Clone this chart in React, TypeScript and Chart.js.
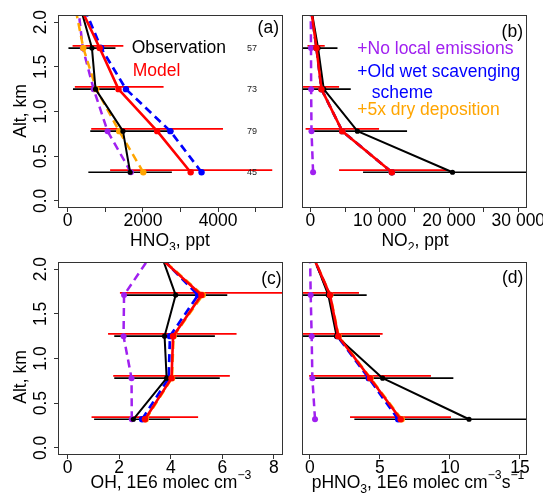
import React, { useEffect, useRef } from 'react';
import { Chart, registerables } from 'chart.js';

Chart.register(...registerables);

const FONT = '"Liberation Sans", Arial, Helvetica, sans-serif';
const TEXT_SIZE = 17.5;

const RED = '#ff0000';
const BLUE = '#0000ff';
const ORANGE = '#ffa500';
const PURPLE = '#a020f0';
const BLACK = '#000000';
const FRAME = '#333333';

// Flight-level altitudes (km); the last level lies above the plotted window.
const altitudes = [0.32, 0.78, 1.25, 1.71, 2.2];
// Altitudes of the variability bars
const barAltitudes = [0.32, 0.78, 1.25, 1.71];
// Model bars are nudged up a little so they do not hide the observed ones
const MODEL_BAR_SHIFT = 0.025;
// Number of observations per level
const sampleCounts = [45, 79, 73, 57];

// Axis ticks
const altTicks = [0, 0.5, 1, 1.5, 2];
const hno3Ticks = [0, 1000, 2000, 3000, 4000, 5000];
const no2Ticks = [0, 5000, 10000, 15000, 20000, 25000, 30000];
const ohTicks = [0, 2, 4, 6, 8];
const phno3Ticks = [0, 5, 10, 15];

// (a) HNO3, ppt
const hno3Obs = [1660, 1470, 740, 645, 314];
const hno3Model = [3270, 2380, 1350, 850, 300];
const hno3OldWet = [3560, 2730, 1550, 890, 400];
const hno3DryDep = [2010, 1370, 760, 416, 185];
const hno3NoEmis = [1680, 1060, 690, 400, 270];
const hno3ObsLow = [549, 600, 140, 20];
const hno3ObsHigh = [2770, 2810, 1260, 1270];
const hno3ModelLow = [1128, 625, 190, 130];
const hno3ModelHigh = [5440, 4130, 2550, 1480];

// (b) NO2, ppt
const no2Obs = [20500, 6780, 1920, 1100, 0];
const no2Model = [11750, 4590, 1590, 870, 0];
const no2OldWet = [11750, 4590, 1590, 870, 0];
const no2DryDep = [11750, 4590, 1590, 870, 0];
const no2NoEmis = [380, 150, 100, 80, 30];
const no2ObsLow = [7590, 150, -1980, -1700];
const no2ObsHigh = [33400, 13940, 5815, 3900];
const no2ModelLow = [4130, -700, -1070, -430];
const no2ModelHigh = [19800, 9900, 4130, 2060];

// (c) OH, 1E6 molec cm-3
const ohObs = [2.55, 3.84, 3.76, 4.19, 3.58];
const ohModel = [3.0, 4.03, 4.09, 5.19, 3.31];
const ohOldWet = [2.89, 3.92, 3.97, 5.06, 3.39];
const ohDryDep = [3.03, 4.05, 4.11, 5.24, 3.33];
const ohNoEmis = [2.49, 2.48, 2.17, 2.19, 3.34];
const ohObsLow = [1.03, 1.81, 1.81, 2.16];
const ohObsHigh = [3.97, 5.9, 5.71, 6.19];
const ohModelLow = [0.93, 1.77, 1.57, 2.03];
const ohModelHigh = [5.06, 6.29, 6.55, 8.4];

// (d) pHNO3, 1E6 molec cm-3 s-1
const phno3Obs = [11.36, 5.19, 1.9, 1.31, 0.1];
const phno3Model = [6.48, 4.29, 2.02, 1.43, 0.06];
const phno3OldWet = [6.3, 4.2, 1.96, 1.4, 0.06];
const phno3DryDep = [6.55, 4.33, 2.05, 1.45, 0.08];
const phno3NoEmis = [0.36, 0.17, 0.12, 0.05, 0.0];
const phno3ObsLow = [3.17, 0.24, -1.2, -1.43];
const phno3ObsHigh = [19.55, 10.24, 5.0, 4.05];
const phno3ModelLow = [2.86, -0.06, -1.15, -0.64];
const phno3ModelHigh = [10.07, 8.64, 5.19, 3.5];

// Altitude axis window
const ALT_MIN = -0.08;
const ALT_MAX = 2.08;

type Seg = { t: string; s?: 'sub' | 'sup' };
type Note = { text: string; color: string; dx: number; dy: number };

interface PanelSpec {
  key: string;
  frame: { left: number; top: number; width: number; height: number };
  yAxisWidth: number;
  xAxisHeight: number;
  padTop: number;
  padRight: number;
  xMin: number;
  xMax: number;
  xTicks: number[];
  xLabel: (v: number) => string;
  yTicks: boolean;
  obs: number[];
  model: number[];
  oldWet: number[];
  dryDep: number[];
  noEmis: number[];
  obsLow: number[];
  obsHigh: number[];
  modelLow: number[];
  modelHigh: number[];
  title: Seg[];
  titleDx: number;
  titleDy: number;
  yTitleDy?: number;
  tag: string;
  tagDx: number;
  tagDy: number;
  notes: Note[];
  countsAt?: number;
}

const groupThousands = (v: number) => String(v).replace(/\B(?=(\d{3})+(?!\d))/g, ' ');

const panels: PanelSpec[] = [
  {
    key: 'a',
    frame: { left: 0, top: 0, width: 292, height: 250 },
    yAxisWidth: 58, xAxisHeight: 42, padTop: 15, padRight: 9,
    xMin: -258, xMax: 5726, xTicks: hno3Ticks,
    xLabel: (v) => (v % 2000 === 0 ? String(v) : ''),
    yTicks: true,
    obs: hno3Obs, model: hno3Model, oldWet: hno3OldWet, dryDep: hno3DryDep, noEmis: hno3NoEmis,
    obsLow: hno3ObsLow, obsHigh: hno3ObsHigh, modelLow: hno3ModelLow, modelHigh: hno3ModelHigh,
    title: [{ t: 'HNO' }, { t: '3', s: 'sub' }, { t: ', ppt' }],
    titleDx: -0.5, titleDy: 38, yTitleDy: -0.5,
    tag: '(a)', tagDx: -4, tagDy: 13.3,
    notes: [
      { text: 'Observation', color: BLACK, dx: 73.7, dy: 33.5 },
      { text: 'Model', color: RED, dx: 74.7, dy: 56 },
    ],
    countsAt: 4900,
  },
  {
    key: 'b',
    frame: { left: 292, top: 0, width: 251, height: 250 },
    yAxisWidth: 10, xAxisHeight: 42, padTop: 15, padRight: 16,
    xMin: -1220, xMax: 31250, xTicks: no2Ticks,
    xLabel: (v) => (v % 10000 === 0 ? groupThousands(v) : ''),
    yTicks: false,
    obs: no2Obs, model: no2Model, oldWet: no2OldWet, dryDep: no2DryDep, noEmis: no2NoEmis,
    obsLow: no2ObsLow, obsHigh: no2ObsHigh, modelLow: no2ModelLow, modelHigh: no2ModelHigh,
    title: [{ t: 'NO' }, { t: '2', s: 'sub' }, { t: ', ppt' }],
    titleDx: 0.5, titleDy: 38,
    tag: '(b)', tagDx: -4, tagDy: 16.7,
    notes: [
      { text: '+No local emissions', color: PURPLE, dx: 55.3, dy: 34.3 },
      { text: '+Old wet scavenging', color: BLUE, dx: 55.3, dy: 56.7 },
      { text: 'scheme', color: BLUE, dx: 69.7, dy: 78 },
      { text: '+5x dry deposition', color: ORANGE, dx: 55.3, dy: 95 },
    ],
  },
  {
    key: 'c',
    frame: { left: 0, top: 250, width: 292, height: 245 },
    yAxisWidth: 58, xAxisHeight: 40, padTop: 12, padRight: 9,
    xMin: -0.37, xMax: 8.35, xTicks: ohTicks,
    xLabel: (v) => String(v),
    yTicks: true,
    obs: ohObs, model: ohModel, oldWet: ohOldWet, dryDep: ohDryDep, noEmis: ohNoEmis,
    obsLow: ohObsLow, obsHigh: ohObsHigh, modelLow: ohModelLow, modelHigh: ohModelHigh,
    title: [{ t: 'OH, 1E6 molec cm' }, { t: '\u22123', s: 'sup' }],
    titleDx: 0.5, titleDy: 32.7, yTitleDy: 18.5,
    tag: '(c)', tagDx: -1.3, tagDy: 17.3,
    notes: [],
  },
  {
    key: 'd',
    frame: { left: 292, top: 250, width: 251, height: 245 },
    yAxisWidth: 10, xAxisHeight: 40, padTop: 12, padRight: 16,
    xMin: -0.57, xMax: 15.5, xTicks: phno3Ticks,
    xLabel: (v) => String(v),
    yTicks: false,
    obs: phno3Obs, model: phno3Model, oldWet: phno3OldWet, dryDep: phno3DryDep, noEmis: phno3NoEmis,
    obsLow: phno3ObsLow, obsHigh: phno3ObsHigh, modelLow: phno3ModelLow, modelHigh: phno3ModelHigh,
    title: [
      { t: 'pHNO' }, { t: '3', s: 'sub' }, { t: ', 1E6 molec cm' }, { t: '\u22123', s: 'sup' },
      { t: 's' }, { t: '\u22121', s: 'sup' },
    ],
    titleDx: 3.5, titleDy: 32.7,
    tag: '(d)', tagDx: -3.7, tagDy: 16.3,
    notes: [],
  },
];

function drawRich(ctx: CanvasRenderingContext2D, segs: Seg[], cx: number, baseline: number, size: number) {
  const small = size * 0.7;
  const widths = segs.map((g) => {
    ctx.font = `${g.s ? small : size}px ${FONT}`;
    return ctx.measureText(g.t).width;
  });
  const total = widths.reduce((s, w) => s + w, 0);
  let x = cx - total / 2;
  ctx.textAlign = 'left';
  ctx.textBaseline = 'alphabetic';
  segs.forEach((g, i) => {
    ctx.font = `${g.s ? small : size}px ${FONT}`;
    const dy = g.s === 'sub' ? size * 0.3 : g.s === 'sup' ? -size * 0.5 : 0;
    ctx.fillText(g.t, x, baseline + dy);
    x += widths[i];
  });
}

function profile(values: number[], color: string, width: number, dash: number[], radius: number, order: number) {
  return {
    data: values.map((v, i) => ({ x: v, y: altitudes[i] })),
    showLine: true,
    borderColor: color,
    backgroundColor: color,
    pointBackgroundColor: color,
    borderWidth: width,
    borderDash: dash,
    borderCapStyle: dash.length ? 'butt' : 'round',
    borderJoinStyle: 'round',
    pointRadius: radius,
    pointHoverRadius: radius,
    pointBorderWidth: 0,
    order,
  };
}

function spreadBar(lo: number, hi: number, alt: number, color: string, order: number) {
  return {
    data: [{ x: lo, y: alt }, { x: hi, y: alt }],
    showLine: true,
    borderColor: color,
    borderWidth: 1.7,
    pointRadius: 0,
    pointHoverRadius: 0,
    order,
  };
}

const fixedTicks = (values: number[]) => (s: any) => {
  s.ticks = values.map((value) => ({ value }));
};

function buildConfig(p: PanelSpec): any {
  const datasets: any[] = [];
  barAltitudes.forEach((alt, i) => {
    datasets.push(spreadBar(p.obsLow[i], p.obsHigh[i], alt, BLACK, 6));
    datasets.push(spreadBar(p.modelLow[i], p.modelHigh[i], alt + MODEL_BAR_SHIFT, RED, 5));
  });
  datasets.push(profile(p.noEmis, PURPLE, 2.5, [8, 5], 3, 4));
  datasets.push(profile(p.dryDep, ORANGE, 2.5, [8, 5], 3.2, 3));
  datasets.push(profile(p.oldWet, BLUE, 2.7, [8, 5], 3.2, 2));
  datasets.push(profile(p.obs, BLACK, 2, [], 2.6, 1));
  datasets.push(profile(p.model, RED, 2.6, [], 3.2, 0));

  const overlay = {
    id: 'panelOverlay',
    afterDraw(chart: any) {
      const { ctx, chartArea: a, scales } = chart;
      ctx.save();
      // plot frame
      ctx.strokeStyle = FRAME;
      ctx.lineWidth = 1;
      ctx.strokeRect(Math.round(a.left) + 0.5, Math.round(a.top) + 0.5,
        Math.round(a.right - a.left) - 1, Math.round(a.bottom - a.top) - 1);

      // panel tag
      ctx.fillStyle = BLACK;
      ctx.font = `${TEXT_SIZE}px ${FONT}`;
      ctx.textAlign = 'right';
      ctx.textBaseline = 'middle';
      ctx.fillText(p.tag, a.right + p.tagDx, a.top + p.tagDy);

      // legend notes
      ctx.textAlign = 'left';
      p.notes.forEach((n) => {
        ctx.fillStyle = n.color;
        ctx.fillText(n.text, a.left + n.dx, a.top + n.dy);
      });

      // sample counts per level
      if (p.countsAt !== undefined) {
        ctx.fillStyle = '#222222';
        ctx.font = `9px ${FONT}`;
        ctx.textAlign = 'center';
        const cx = scales.x.getPixelForValue(p.countsAt);
        barAltitudes.forEach((alt, i) => {
          ctx.fillText(String(sampleCounts[i]), cx, scales.y.getPixelForValue(alt));
        });
      }

      // axis titles
      ctx.fillStyle = BLACK;
      drawRich(ctx, p.title, (a.left + a.right) / 2 + p.titleDx, a.bottom + p.titleDy, TEXT_SIZE);
      if (p.yTitleDy !== undefined) {
        ctx.save();
        ctx.translate(a.left - 32, (a.top + a.bottom) / 2 + p.yTitleDy);
        ctx.rotate(-Math.PI / 2);
        ctx.font = `${TEXT_SIZE}px ${FONT}`;
        ctx.textAlign = 'center';
        ctx.textBaseline = 'alphabetic';
        ctx.fillText('Alt, km', 0, 0);
        ctx.restore();
      }
      ctx.restore();
    },
  };

  const tickFont = { family: FONT, size: TEXT_SIZE };

  return {
    type: 'scatter',
    data: { datasets },
    options: {
      animation: false,
      responsive: false,
      maintainAspectRatio: false,
      devicePixelRatio: 1,
      events: [],
      layout: { padding: { top: p.padTop, right: p.padRight, left: 0, bottom: 0 } },
      plugins: { legend: { display: false }, tooltip: { enabled: false } },
      scales: {
        x: {
          type: 'linear',
          position: 'bottom',
          min: p.xMin,
          max: p.xMax,
          afterBuildTicks: fixedTicks(p.xTicks),
          afterFit: (s: any) => {
            s.height = p.xAxisHeight;
            s.paddingLeft = 0;
            s.paddingRight = 0;
          },
          border: { display: false },
          grid: { display: true, drawOnChartArea: false, drawTicks: true, tickLength: 4, color: FRAME, lineWidth: 1 },
          ticks: {
            autoSkip: false,
            minRotation: 0,
            maxRotation: 0,
            padding: -1,
            color: BLACK,
            font: tickFont,
            callback: (v: number) => p.xLabel(Math.round(v * 1000) / 1000),
          },
        },
        y: {
          type: 'linear',
          position: 'left',
          min: ALT_MIN,
          max: ALT_MAX,
          afterBuildTicks: fixedTicks(altTicks),
          afterFit: (s: any) => {
            s.width = p.yAxisWidth;
            s.paddingTop = 0;
            s.paddingBottom = 0;
          },
          border: { display: false },
          grid: p.yTicks
            ? { display: true, drawOnChartArea: false, drawTicks: true, tickLength: 4, color: FRAME, lineWidth: 1 }
            : { display: false },
          ticks: p.yTicks
            ? {
                autoSkip: false,
                minRotation: 90,
                maxRotation: 90,
                crossAlign: 'center',
                padding: 1,
                color: BLACK,
                font: tickFont,
                callback: (v: number) => Number(v).toFixed(1),
              }
            : { display: false },
        },
      },
    },
    plugins: [overlay],
  };
}

function Panel({ spec }: { spec: PanelSpec }) {
  const ref = useRef<HTMLCanvasElement>(null);
  useEffect(() => {
    if (!ref.current) return;
    const chart = new Chart(ref.current, buildConfig(spec));
    return () => chart.destroy();
  }, [spec]);
  const f = spec.frame;
  return (
    <canvas
      ref={ref}
      width={f.width}
      height={f.height}
      style={{ position: 'absolute', left: f.left, top: f.top, width: f.width, height: f.height, display: 'block' }}
    />
  );
}

export default function App() {
  return (
    <div style={{ position: 'fixed', left: 0, top: 0, width: 543, height: 495, background: '#ffffff', overflow: 'hidden' }}>
      {panels.map((p) => (
        <Panel key={p.key} spec={p} />
      ))}
    </div>
  );
}
